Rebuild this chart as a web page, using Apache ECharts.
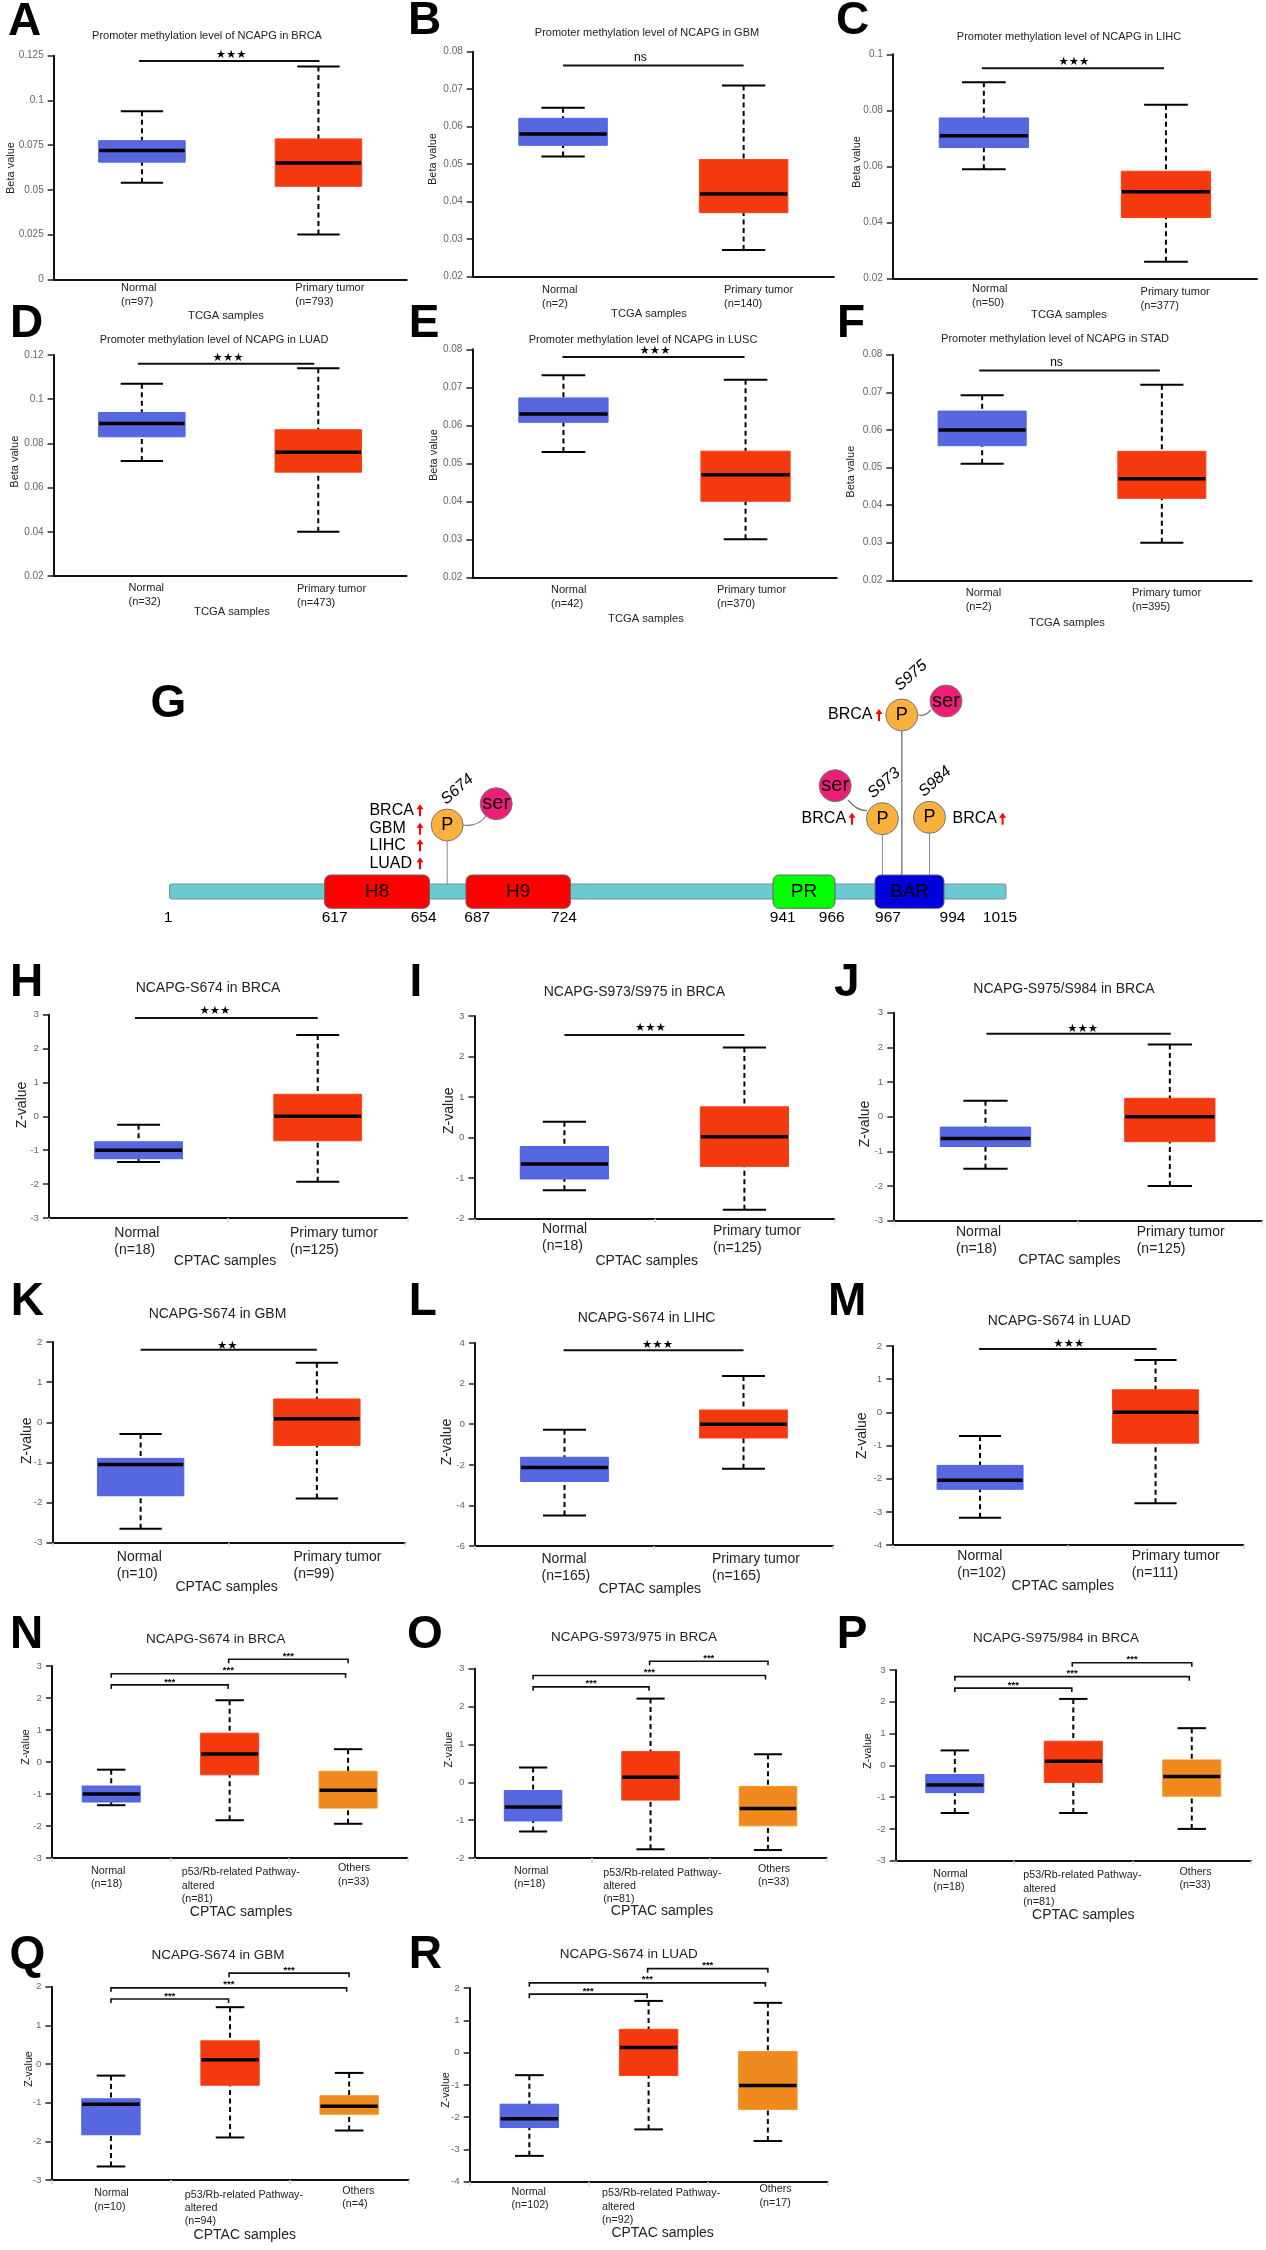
<!DOCTYPE html>
<html><head><meta charset="utf-8">
<script src="https://cdn.jsdelivr.net/npm/echarts@6/dist/echarts.min.js"></script>
<style>html,body{margin:0;padding:0;background:#fff}#c{width:1266px;height:2250px}</style>
</head><body><div id="c"></div>
<script>
// ---------- DATA ----------
const panelLetters = ['A','B','C','D','E','F','H','I','J','K','L','M','N','O','P','Q','R'];
const titleTexts = [
 'Promoter methylation level of NCAPG in BRCA','Promoter methylation level of NCAPG in GBM','Promoter methylation level of NCAPG in LIHC',
 'Promoter methylation level of NCAPG in LUAD','Promoter methylation level of NCAPG in LUSC','Promoter methylation level of NCAPG in STAD',
 'NCAPG-S674 in BRCA','NCAPG-S973/S975 in BRCA','NCAPG-S975/S984 in BRCA','NCAPG-S674 in GBM','NCAPG-S674 in LIHC','NCAPG-S674 in LUAD',
 'NCAPG-S674 in BRCA','NCAPG-S973/975 in BRCA','NCAPG-S975/984 in BRCA','NCAPG-S674 in GBM','NCAPG-S674 in LUAD'];
const yMins = [0,0.02,0.02,0.02,0.02,0.02,-3,-2,-3,-3,-6,-4,-3,-2,-3,-3,-4];
const yMaxs = [0.125,0.08,0.1,0.12,0.08,0.08,3,3,3,2,4,2,3,3,3,2,2];
const yIntervals = [0.025,0.01,0.02,0.02,0.01,0.01,1,1,1,1,2,1,1,1,1,1,1];
const betaName = 'Beta value', zName = 'Z-value', tcgaName = 'TCGA samples', cptacName = 'CPTAC samples';
const midLabel = 'p53/Rb-related Pathway-\naltered\n';
const categories = [
 ['Normal\n(n=97)','Primary tumor\n(n=793)'],['Normal\n(n=2)','Primary tumor\n(n=140)'],['Normal\n(n=50)','Primary tumor\n(n=377)'],
 ['Normal\n(n=32)','Primary tumor\n(n=473)'],['Normal\n(n=42)','Primary tumor\n(n=370)'],['Normal\n(n=2)','Primary tumor\n(n=395)'],
 ['Normal\n(n=18)','Primary tumor\n(n=125)'],['Normal\n(n=18)','Primary tumor\n(n=125)'],['Normal\n(n=18)','Primary tumor\n(n=125)'],
 ['Normal\n(n=10)','Primary tumor\n(n=99)'],['Normal\n(n=165)','Primary tumor\n(n=165)'],['Normal\n(n=102)','Primary tumor\n(n=111)'],
 ['Normal\n(n=18)',midLabel+'(n=81)','Others\n(n=33)'],['Normal\n(n=18)',midLabel+'(n=81)','Others\n(n=33)'],['Normal\n(n=18)',midLabel+'(n=81)','Others\n(n=33)'],
 ['Normal\n(n=10)',midLabel+'(n=94)','Others\n(n=4)'],['Normal\n(n=102)',midLabel+'(n=92)','Others\n(n=17)']];
// low, q1, median, q3, high
const boxA = [[0.054,0.0655,0.072,0.0775,0.094],[0.025,0.052,0.065,0.0785,0.119]];
const boxB = [[0.052,0.055,0.058,0.0622,0.065],[0.027,0.037,0.042,0.0512,0.071]];
const boxC = [[0.059,0.0668,0.071,0.0773,0.09],[0.026,0.0418,0.051,0.0583,0.082]];
const boxD = [[0.072,0.083,0.089,0.094,0.107],[0.04,0.067,0.076,0.0862,0.114]];
const boxE = [[0.053,0.0608,0.063,0.0672,0.0732],[0.03,0.04,0.047,0.0532,0.072]];
const boxF = [[0.051,0.0558,0.06,0.065,0.0692],[0.03,0.0418,0.047,0.0543,0.072]];
const boxH = [[-1.35,-1.25,-1.0,-0.75,-0.25],[-1.93,-0.72,0,0.65,2.4]];
const boxI = [[-1.3,-1.02,-0.65,-0.22,0.39],[-1.78,-0.71,0.02,0.76,2.22]];
const boxJ = [[-1.5,-0.86,-0.63,-0.3,0.46],[-2.0,-0.72,0,0.53,2.08]];
const boxK = [[-2.65,-1.83,-1.05,-0.9,-0.29],[-1.9,-0.58,0.09,0.58,1.48]];
const boxL = [[-4.5,-2.82,-2.13,-1.63,-0.27],[-2.2,-0.68,0,0.7,2.37]];
const boxM = [[-3.18,-2.32,-2.05,-1.6,-0.71],[-2.74,-0.93,0,0.68,1.58]];
const boxN = [[-1.35,-1.25,-1.0,-0.75,-0.24],[-1.82,-0.4,0.25,0.9,1.93],[-1.93,-1.44,-0.88,-0.29,0.4]];
const boxO = [[-1.3,-1.02,-0.65,-0.22,0.39],[-1.77,-0.47,0.13,0.81,2.21],[-1.79,-1.15,-0.69,-0.11,0.74]];
const boxP = [[-1.5,-0.86,-0.62,-0.29,0.47],[-1.5,-0.54,0.13,0.76,2.09],[-2.0,-0.97,-0.35,0.17,1.17]];
const boxQ = [[-2.65,-1.83,-1.04,-0.9,-0.3],[-1.9,-0.55,0.11,0.6,1.47],[-1.72,-1.3,-1.09,-0.82,-0.23]];
const boxR = [[-3.2,-2.32,-2.05,-1.6,-0.7],[-2.38,-0.71,0.16,0.72,1.6],[-2.74,-1.76,-1.02,0.03,1.54]];
const allBoxes = [boxA,boxB,boxC,boxD,boxE,boxF,boxH,boxI,boxJ,boxK,boxL,boxM,boxN,boxO,boxP,boxQ,boxR];
// significance level values on each panel's y scale
const sigValues = [[0.122],[0.0763],[0.095],[0.116],[0.078],[0.0758],[2.9],[2.53],[2.39],[1.81],[3.64],[1.91],
 [2.41,2.76,3.21],[2.52,2.82,3.195],[2.43,2.79,3.23],[1.68,1.97,2.35],[1.81,2.16,2.6]];
const sigMarks = ['★★★','ns','★★★','★★★','★★★','ns','★★★','★★★','★★★','★★','★★★','★★★','***','***','***','***','***'];
const bracketPairs = [[0,1],[0,2],[1,2]];
// panel G
const gLetter = 'G';
const domainNames = ['H8','H9','PR','BAR'];
const domainColors = ['#ff0000','#ff0000','#00ff00','#0000dc'];
const residueLabels = ['1','617','654','687','724','941','966','967','994','1015'];
const siteNames = ['S674','S973','S975','S984'];

// ---------- LAYOUT (pixels of the page) ----------
const plotBox = [ // left,right,top,bottom
 [53.7,406.7,55.7,279.3],[472.8,833.9,51.7,276.3],[892.8,1257,54.3,278.7],
 [53.6,406.5,355,576],[472.4,836.6,349.3,577.3],[892.3,1251.7,354.7,580.3],
 [49,407.3,1014.7,1218],[474.4,834.4,1016,1218.7],[893.3,1262,1012.7,1220.7],
 [52.5,405,1342,1542.7],[475,833,1343,1546],[892.3,1243.3,1346,1545],
 [52,407.3,1666,1858],[474.4,826.7,1668.7,1858],[895.6,1251,1670,1860.7],
 [51.4,408.7,1986.7,2180],[469.7,827.5,1988,2181.7]];
const titlePos = [[207,36],[647,33],[1069,37.3],[214,340.3],[643,340.3],[1055,339],[208,987.7],[634.4,991.7],[1064,988.7],
 [217.5,1314],[646.5,1318],[1059.3,1321.3],[215.7,1639],[634,1637.3],[1056,1638],[218,1955.7],[628.8,1954]];
const letterPos = [[8,22],[408,21],[836,21],[10,324],[408.7,324],[837,324],[10,983],[409.4,983],[834,983],[10.7,1302],[408.7,1302],[828,1302],
 [10,1635],[407,1635],[836.7,1635],[9.6,1955.7],[408.7,1955]];
const xNamePos = [[226,316],[649,314],[1069,315],[232,612],[646,619],[1067,623],[225,1260.7],[646.7,1261],[1069.4,1260],
 [226.6,1587],[649.7,1588.7],[1062.7,1586],[241,1911.7],[662,1911.3],[1083.3,1914.7],[244.8,2234.7],[662.6,2232.7]];
const yNamePos = [[11,168],[433,159],[857,162],[14.5,461.7],[434,455],[850.7,471.7],[21.7,1105],[449,1110.7],[865,1124],
 [26.8,1440.7],[447,1442],[861.7,1435.7],[25.7,1747],[449,1749.7],[867.8,1751],[29,2069],[445.6,2090]];
const labelPos = [ // per category: left edge, centre of first line
 [[121,288.3],[295.3,287.7]],[[542,290],[724,290]],[[972,289],[1140.6,292]],
 [[128.5,587.7],[297,588.7]],[[551,590],[717,590]],[[965.7,592.7],[1132,593]],
 [[114.3,1232.7],[290,1232.7]],[[542,1228.7],[713,1231]],[[956,1232],[1136.7,1232]],
 [[116.8,1557],[293.5,1557]],[[541.5,1559],[712,1559]],[[957.3,1556.3],[1131.7,1556.3]],
 [[91,1870.7],[181.7,1872.3],[338,1868.3]],[[514,1871],[603.3,1872.7],[758,1868.7]],[[933.3,1874],[1023.3,1875.3],[1179.4,1871.7]],
 [[94.3,2193.3],[184.8,2194.7],[342.3,2191]],[[511.5,2191.7],[602,2193.3],[759.5,2189.3]]];
const sigShift = [ // left end dx, right end dx, mark dx, mark dy (two-group panels)
 [-3,1,2,-6],[0,0,-13,-8],[-2,-2,1,-6],[-4,-4,2,-6],[-1,-1,1.5,-6],[-3,-2,-13,-8],[-3.6,0,-11.5,-7],[0,0,-4,-7],[1,1,4,-5],[0,0,-1.5,-4],[-1,0,4,-5],[-1,1,1,-5]];
const bracketShift = [[0,-1.5],[0,-2.5],[-1,0]];
const groupOf = i => i < 6 ? 0 : i < 12 ? 1 : 2;
const titleSize = [11,14,13.5], xNameSize = [11.2,14,14], yNameSize = [11,14,10.7];
const catSize = [11,14,10.7], catLine = [14,17.3,13.3];
const boxColors = [['#5568e0','#4a63ea'],['#f4390e','#f6431a'],['#f08a1e','#f39528']];
const FONT = 'Liberation Sans';

// ---------- PANELS ----------
const grids=[],xAxes=[],yAxes=[],series=[],titles=[];
function shiftPad(d){return d>=0?[0,0,0,2*d]:[0,-2*d,0,0];}
allBoxes.forEach((box,i)=>{
 const [L,R,T,B]=plotBox[i], g=groupOf(i), cats=categories[i];
 grids.push({left:L,top:T,width:R-L,height:B-T,containLabel:false,outerBoundsMode:'none'});
 const band=(R-L)/cats.length;
 xAxes.push({type:'category',gridIndex:i,boundaryGap:true,
  data:cats.map((c,k)=>{const lh=catLine[g];return {value:c,textStyle:{align:'left',verticalAlign:'top',
     padding:[labelPos[i][k][1]-B-lh/2,0,0,labelPos[i][k][0]-(L+band*(k+0.5))]}};}),
  axisLine:{show:true,onZero:false,lineStyle:{color:'#111',width:2}},
  axisTick:{show:g>0,interval:0,length:4,lineStyle:{color:'#c6d5ea',width:1.5}},
  axisLabel:{show:true,interval:0,margin:0,hideOverlap:false,color:'#222',fontFamily:FONT,fontSize:catSize[g],lineHeight:catLine[g]},
  name:i<6?tcgaName:cptacName,nameLocation:'middle',nameMoveOverlap:false,nameGap:xNamePos[i][1]-B,
  nameTextStyle:{fontFamily:FONT,fontSize:xNameSize[g],color:'#222',align:'center',verticalAlign:'middle',padding:shiftPad(xNamePos[i][0]-(L+R)/2)},
  splitLine:{show:false}});
 yAxes.push({type:'value',gridIndex:i,min:yMins[i],max:yMaxs[i],interval:yIntervals[i],
  axisLine:{show:true,onZero:false,lineStyle:{color:'#111',width:2}},
  axisTick:{show:true,length:6,lineStyle:{color:'#222',width:1.5}},
  axisLabel:{show:true,margin:10,color:'#666',fontFamily:FONT,fontSize:i<6?10:9.8},
  name:i<6?betaName:zName,nameLocation:'middle',nameMoveOverlap:false,nameGap:L-yNamePos[i][0],
  nameTextStyle:{fontFamily:FONT,fontSize:yNameSize[g],color:'#222',align:'center',verticalAlign:'middle',padding:shiftPad((T+B)/2-yNamePos[i][1])},
  splitLine:{show:false}});
 titles.push({text:titleTexts[i],left:titlePos[i][0],top:titlePos[i][1],padding:0,textAlign:'center',textVerticalAlign:'middle',
  textStyle:{fontFamily:FONT,fontSize:titleSize[g],fontWeight:'normal',color:'#222'}});
 titles.push({text:panelLetters[i],left:letterPos[i][0],top:letterPos[i][1],padding:0,textAlign:'left',textVerticalAlign:'middle',
  textStyle:{fontFamily:FONT,fontSize:46,fontWeight:'bold',color:'#000'}});
 // boxes
 series.push({type:'custom',coordinateSystem:'cartesian2d',xAxisIndex:i,yAxisIndex:i,clip:false,silent:true,
  encode:{x:0,y:[1,2,3,4,5]},
  data:box.map((b,k)=>[k].concat(b)),
  renderItem:(p,api)=>{
   const k=api.value(0),w=api.size([1,0])[0],hw=w*0.245,cw=w*0.12;
   const pt=j=>api.coord([k,api.value(j)]);
   const lo=pt(1),q1=pt(2),me=pt(3),q3=pt(4),hi=pt(5),x=lo[0];
   const black={stroke:'#000',lineWidth:2};
   const dash={stroke:'#000',lineWidth:2,lineDash:[5,3.5]};
   const line=(x1,y1,x2,y2,s)=>({type:'line',shape:{x1,y1,x2,y2},style:s});
   return {type:'group',children:[
    line(x,hi[1],x,q3[1],dash),line(x,lo[1],x,q1[1],dash),
    line(x-cw,hi[1],x+cw,hi[1],black),line(x-cw,lo[1],x+cw,lo[1],black),
    {type:'rect',shape:{x:x-hw,y:q3[1],width:2*hw,height:q1[1]-q3[1]},style:{fill:boxColors[k][0],stroke:boxColors[k][1],lineWidth:1}},
    line(x-hw+0.5,me[1],x+hw-0.5,me[1],{stroke:'#000',lineWidth:3.5})]};
  }});
 // significance marks
 const isTri=cats.length===3;
 series.push({type:'custom',coordinateSystem:'cartesian2d',xAxisIndex:i,yAxisIndex:i,clip:false,silent:true,
  encode:{x:0,y:2},
  data:sigValues[i].map((v,k)=>{const pr=isTri?bracketPairs[k]:[0,1];return [pr[0],pr[1],v,k];}),
  renderItem:(p,api)=>{
   const a=api.coord([api.value(0),api.value(2)]),b=api.coord([api.value(1),api.value(2)]),k=api.value(3);
   const stroke={stroke:'#111',lineWidth:isTri?1.6:2};
   if(!isTri){
    const s=sigShift[i],x1=a[0]+s[0],x2=b[0]+s[1],isNs=sigMarks[i]==='ns';
    return {type:'group',children:[
     {type:'line',shape:{x1,y1:a[1],x2,y2:a[1]},style:stroke},
     {type:'text',x:(x1+x2)/2+s[2],y:a[1]+s[3],style:{text:sigMarks[i],align:'center',verticalAlign:'middle',
       fontFamily:isNs?FONT:'DejaVu Sans',fontSize:isNs?12:11.5,fill:'#000'}}]};
   }
   const s=bracketShift[k],x1=a[0]+s[0],x2=b[0]+s[1],y=a[1];
   return {type:'group',children:[
    {type:'polyline',shape:{points:[[x1,y+4],[x1,y],[x2,y],[x2,y+4]]},style:{stroke:'#111',lineWidth:1.6,fill:null}},
    {type:'text',x:(x1+x2)/2,y:y-3,style:{text:sigMarks[i],align:'center',verticalAlign:'middle',fontFamily:FONT,fontWeight:'bold',fontSize:9.5,fill:'#000'}}]};
  }});
});

// ---------- PANEL G : schematic on a hidden drawing-unit scale ----------
const gi=allBoxes.length;
grids.push({left:0,top:0,width:1266,height:2250,containLabel:false,outerBoundsMode:'none'});
xAxes.push({type:'value',gridIndex:gi,min:0,max:1266,show:false});
yAxes.push({type:'value',gridIndex:gi,min:0,max:2250,inverse:true,show:false});
titles.push({text:gLetter,left:150.6,top:704,padding:0,textAlign:'left',textVerticalAlign:'middle',textStyle:{fontFamily:FONT,fontSize:46,fontWeight:'bold',color:'#000'}});
const trackSpan=[169.5,1006], trackY=[884,899], domainY=[875,908.3];
const domainStart=[324.6,466,773,875], domainEnd=[429.5,570.4,835,944];
const residueX=[168,334.6,423.6,477.3,564,782.7,831.7,888,952.5,1000], residueY=918;
const siteX=[447.2,882.4,901.8,929.5], siteY=[825,818.7,715,817.3], siteRotX=[457.3,884,911,935], siteRotY=[789.3,783,675.7,781.7];
const serX=[496.2,835.2,946], serY=[803.7,785.7,701];
const linkStart=[[463,825],[867,810.7],[917.8,715]], linkEnd=[[486,816],[848,800],[930.7,710]], linkCtrl=[[478,827],[857,811],[925,717]];
const cancerTexts=[['BRCA',369.4,810.3,420],['GBM',369.4,828.7,420],['LIHC',369.4,845.3,420],['LUAD',369.4,863.3,420],
 ['BRCA',828,715,879],['BRCA',801.6,818.7,852],['BRCA',952.5,818.7,1002.6]];
function gSeries(data,renderItem,z){return {type:'custom',coordinateSystem:'cartesian2d',xAxisIndex:gi,yAxisIndex:gi,clip:false,silent:true,z:z||2,
 encode:{x:0,y:1},data,renderItem};}
const tx=(t,x,y,o)=>({type:'text',x,y,rotation:(o&&o.rot)||0,style:Object.assign({text:t,align:'center',verticalAlign:'middle',fontFamily:FONT,fontSize:15.5,fill:'#000'},o&&o.s)});
series.push(gSeries([[trackSpan[0],trackY[0],trackSpan[1],trackY[1]]],(p,api)=>{
 const a=api.coord([api.value(0),api.value(1)]),b=api.coord([api.value(2),api.value(3)]);
 return {type:'rect',shape:{x:a[0],y:a[1],width:b[0]-a[0],height:b[1]-a[1],r:2},style:{fill:'#6bc9d3',stroke:'#7f8f92',lineWidth:1}};
},2));
series.push(gSeries(domainStart.map((s,k)=>[s,domainY[0],domainEnd[k],domainY[1],k]),(p,api)=>{
 const a=api.coord([api.value(0),api.value(1)]),b=api.coord([api.value(2),api.value(3)]),k=api.value(4);
 return {type:'group',children:[
  {type:'rect',shape:{x:a[0],y:a[1],width:b[0]-a[0],height:b[1]-a[1],r:6},style:{fill:domainColors[k],stroke:'#666',lineWidth:1}},
  tx(domainNames[k],(a[0]+b[0])/2,(a[1]+b[1])/2,{s:{fontSize:19,fill:'#000'}})]};
},3));
series.push(gSeries(residueX.map((x,k)=>[x,residueY,k]),(p,api)=>{
 const a=api.coord([api.value(0),api.value(1)]);return tx(residueLabels[api.value(2)],a[0],a[1]);
},3));
const stemEnd=[884,875,875,875];
series.push(gSeries(siteX.map((x,k)=>[x,siteY[k],stemEnd[k],k]),(p,api)=>{
 const a=api.coord([api.value(0),api.value(1)]),b=api.coord([api.value(0),api.value(2)]),k=api.value(3);
 return {type:'line',shape:{x1:a[0],y1:a[1],x2:b[0],y2:b[1]},style:{stroke:'#888',lineWidth:k===2?1.6:1}};
},1));
series.push(gSeries(linkStart.map((s,k)=>[s[0],s[1],linkEnd[k][0],linkEnd[k][1],linkCtrl[k][0],linkCtrl[k][1]]),(p,api)=>{
 const a=api.coord([api.value(0),api.value(1)]),b=api.coord([api.value(2),api.value(3)]),c=api.coord([api.value(4),api.value(5)]);
 return {type:'bezierCurve',shape:{x1:a[0],y1:a[1],x2:b[0],y2:b[1],cpx1:c[0],cpy1:c[1]},style:{stroke:'#777',lineWidth:1.2,fill:null}};
},3));
series.push(gSeries(siteX.map((x,k)=>[x,siteY[k],siteRotX[k],siteRotY[k],k]),(p,api)=>{
 const a=api.coord([api.value(0),api.value(1)]),b=api.coord([api.value(2),api.value(3)]),k=api.value(4);
 return {type:'group',children:[
  {type:'circle',shape:{cx:a[0],cy:a[1],r:16},style:{fill:'#f9b13d',stroke:'#777',lineWidth:1}},
  tx('P',a[0],a[1],{s:{fontSize:18}}),
  tx(siteNames[k],b[0],b[1],{rot:0.72,s:{fontSize:16,fontStyle:'italic'}})]};
},4));
series.push(gSeries(serX.map((x,k)=>[x,serY[k]]),(p,api)=>{
 const a=api.coord([api.value(0),api.value(1)]);
 return {type:'group',children:[
  {type:'circle',shape:{cx:a[0],cy:a[1],r:16},style:{fill:'#ee1e78',stroke:'#777',lineWidth:1}},
  tx('ser',a[0],a[1],{s:{fontSize:20}})]};
},4));
series.push(gSeries(cancerTexts.map((c,k)=>[c[1],c[2],c[3],k]),(p,api)=>{
 const a=api.coord([api.value(0),api.value(1)]),b=api.coord([api.value(2),api.value(1)]),k=api.value(3);
 const x=b[0],y=a[1];
 return {type:'group',children:[
  tx(cancerTexts[k][0],a[0],y,{s:{align:'left',fontSize:16}}),
  {type:'line',shape:{x1:x,y1:y+6,x2:x,y2:y-2},style:{stroke:'#ff0000',lineWidth:2}},
  {type:'polygon',shape:{points:[[x-3.5,y-1],[x+3.5,y-1],[x,y-6]]},style:{fill:'#ff0000'}}]};
},4));

const chart=echarts.init(document.getElementById('c'),null,{renderer:'canvas',width:1266,height:2250});
chart.setOption({animation:false,backgroundColor:'#fff',tooltip:{show:false},title:titles,grid:grids,xAxis:xAxes,yAxis:yAxes,series});
</script></body></html>
